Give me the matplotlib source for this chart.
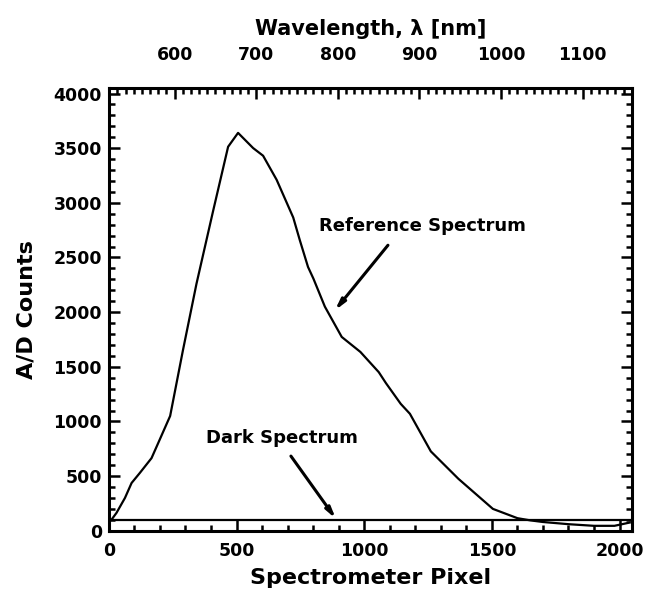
import matplotlib.pyplot as plt
from matplotlib.ticker import MultipleLocator
import numpy as np

# reference spectrum read along the detector
ref_pixel = [0, 10, 30, 63, 89, 121, 167, 193, 240, 290, 343, 408, 467, 506,
             565, 604, 657, 722, 748, 780, 801, 846, 912, 985, 1057, 1085,
             1143, 1179, 1261, 1369, 1504, 1600, 1650, 1700, 1800, 1900,
             1980, 2040]
ref_counts = [90, 100, 164, 300, 437, 528, 664, 801, 1050, 1650, 2258, 2923,
              3513, 3640, 3501, 3431, 3211, 2866, 2657, 2413, 2307, 2050,
              1773, 1636, 1451, 1351, 1161, 1070, 726, 475, 200, 115, 95, 80,
              60, 45, 45, 75]

# dark spectrum (flat offset)
dark_pixel = [0, 500, 1000, 1500, 2048]
dark_counts = [100, 100, 100, 100, 100]

# linear wavelength calibration, nm = a + b * pixel
cal_a = 519.5
cal_b = 0.3128
wl_ticks = [600, 700, 800, 900, 1000, 1100]

plt.rcParams['font.family'] = ['DejaVu Sans']
plt.rcParams['font.weight'] = 'bold'

fig = plt.figure(figsize=(6.48, 5.95), dpi=100)
ax = fig.add_axes([0.168, 0.108, 0.807, 0.744])

ax.plot(ref_pixel, ref_counts, color='black', lw=1.6)
ax.plot(dark_pixel, dark_counts, color='black', lw=1.6)

ax.set_xlim(0, 2048)
ax.set_ylim(0, 4050)
ax.xaxis.set_major_locator(MultipleLocator(500))
ax.xaxis.set_minor_locator(MultipleLocator(100))
ax.yaxis.set_major_locator(MultipleLocator(500))
ax.yaxis.set_minor_locator(MultipleLocator(100))
ax.tick_params(which='both', direction='in', right=True, width=1.8,
               labelsize=12.5)
ax.tick_params(which='major', length=8)
ax.tick_params(which='minor', length=4)
ax.tick_params(axis='x', pad=8)
ax.tick_params(axis='y', pad=5)
for lab in ax.get_xticklabels() + ax.get_yticklabels():
    lab.set_fontweight('bold')
for sp in ax.spines.values():
    sp.set_linewidth(2.2)

ax.set_xlabel('Spectrometer Pixel', fontsize=16, fontweight='bold', labelpad=6)
ax.set_ylabel('A/D Counts', fontsize=16, fontweight='bold', labelpad=12)

top = ax.secondary_xaxis('top', functions=(lambda p: cal_a + cal_b * p,
                                           lambda w: (w - cal_a) / cal_b))
top.set_xticks(wl_ticks)
top.xaxis.set_minor_locator(MultipleLocator(10))
top.tick_params(which='both', direction='in', width=1.8, labelsize=12.5,
                pad=17)
top.tick_params(which='major', length=8)
top.tick_params(which='minor', length=4)
for lab in top.get_xticklabels():
    lab.set_fontweight('bold')
top.set_xlabel('Wavelength, λ [nm]', fontsize=15, fontweight='bold',
               labelpad=8)

arrow = dict(arrowstyle='-|>,head_length=0.6,head_width=0.15', color='black',
             lw=2.2, shrinkA=0, shrinkB=0)
ax.text(1230, 2785, 'Reference Spectrum', fontsize=13, fontweight='bold',
        ha='center', va='center')
ax.annotate('', xy=(885, 2015), xytext=(1093, 2612), arrowprops=arrow)
ax.text(677, 846, 'Dark Spectrum', fontsize=13, fontweight='bold',
        ha='center', va='center')
ax.annotate('', xy=(889, 109), xytext=(713, 683), arrowprops=arrow)

fig.savefig('out.png', dpi=100)
